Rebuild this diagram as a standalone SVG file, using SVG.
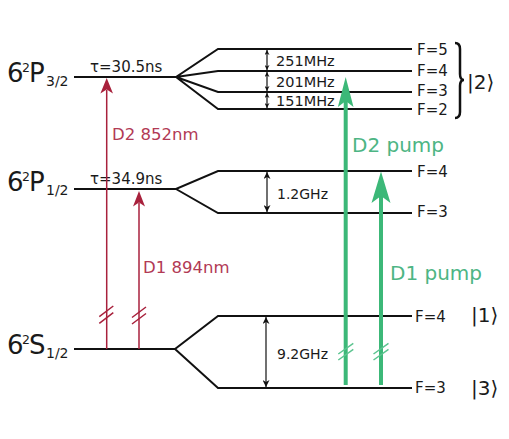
<svg xmlns="http://www.w3.org/2000/svg" width="509" height="439" viewBox="0 0 509 439">
<defs>
<style>
text{font-family:"DejaVu Sans","Liberation Sans",sans-serif;fill:#1a1a1a}
.lvl{fill:none;stroke:#111;stroke-width:2}
.st{font-size:26px}
.sup{font-size:12.5px}
.sub{font-size:14px}
.tau{font-size:15px}
.fl{font-size:15px}
.hz{font-size:14.5px}
.gz{font-size:14px}
.ket{font-size:20px}
.split{fill:none;stroke:#111;stroke-width:1.2}
.red{fill:none;stroke:#a8213c;stroke-width:1.5}
.redh{fill:#a8213c;stroke:none}
.redt{fill:#b23a55;font-size:16.5px}
.grn{fill:none;stroke:#3cb878;stroke-width:4}
.grnh{fill:#3cb878;stroke:none}
.grnm{fill:none;stroke:#5cc490;stroke-width:1.5}
.grnt{fill:#4db584;font-size:20px}
</style>
<marker id="ah" viewBox="0 0 10 10" refX="10" refY="5" markerWidth="5" markerHeight="5" orient="auto-start-reverse" markerUnits="userSpaceOnUse">
<path d="M0,0 L10,5 L0,10 L3,5 Z" fill="#111"/>
</marker>
<marker id="ahb" viewBox="0 0 10 10" refX="10" refY="5" markerWidth="7" markerHeight="7" orient="auto-start-reverse" markerUnits="userSpaceOnUse">
<path d="M0,0 L10,5 L0,10 L3,5 Z" fill="#111"/>
</marker>
</defs>
<rect width="509" height="439" fill="#fff"/>

<g id="P32">
<text x="7" y="82" class="st">6</text>
<text x="22" y="72" class="sup">2</text>
<text x="29" y="82" class="st">P</text>
<text x="46" y="85.5" class="sub">3/2</text>
<path class="lvl" d="M74,77 H176 L218,49 H412 M176,77 L218,71 H412 M176,77 L218,92 H412 M176,77 L218,109 H412"/>
<text x="90" y="71.5" class="tau">τ=30.5ns</text>
<text x="417" y="55" class="fl">F=5</text>
<text x="417" y="76" class="fl">F=4</text>
<text x="417" y="96" class="fl">F=3</text>
<text x="417" y="115" class="fl">F=2</text>
<path class="split" marker-start="url(#ah)" marker-end="url(#ah)" d="M267,50 V70"/>
<path class="split" marker-start="url(#ah)" marker-end="url(#ah)" d="M267,72 V91"/>
<path class="split" marker-start="url(#ah)" marker-end="url(#ah)" d="M267,93 V108"/>
<text x="276" y="66" class="hz">251MHz</text>
<text x="276" y="86.5" class="hz">201MHz</text>
<text x="276" y="106" class="hz">151MHz</text>
<path d="M455,43 Q460,43 460,49 L460,74 Q460,80 464,80 Q460,80 460,86 L460,112 Q460,118 455,118" fill="none" stroke="#111" stroke-width="2.5"/>
<text x="467" y="89" class="ket">|2⟩</text>
</g>

<g id="P12">
<text x="7" y="191" class="st">6</text>
<text x="22" y="181" class="sup">2</text>
<text x="29" y="191" class="st">P</text>
<text x="46" y="195" class="sub">1/2</text>
<path class="lvl" d="M74,189 H176 L218,171 H412 M176,189 L218,213 H412"/>
<text x="90" y="183.5" class="tau">τ=34.9ns</text>
<text x="417" y="176.5" class="fl">F=4</text>
<text x="417" y="217" class="fl">F=3</text>
<path class="split" marker-start="url(#ahb)" marker-end="url(#ahb)" d="M267,172 V212"/>
<text x="277" y="198.5" class="gz">1.2GHz</text>
</g>

<g id="S12">
<text x="7" y="354" class="st">6</text>
<text x="22" y="344" class="sup">2</text>
<text x="29" y="354" class="st">S</text>
<text x="46" y="358" class="sub">1/2</text>
<path class="lvl" d="M74,349 H175 L218,316 H412 M175,349 L218,388 H412"/>
<text x="415" y="322" class="fl">F=4</text>
<text x="415" y="393" class="fl">F=3</text>
<path class="split" marker-start="url(#ahb)" marker-end="url(#ahb)" d="M266,317 V387"/>
<text x="277" y="359" class="gz">9.2GHz</text>
<text x="471" y="322" class="ket">|1⟩</text>
<text x="471" y="395" class="ket">|3⟩</text>
</g>

<g id="connectors">
<path class="red" d="M106.7,349 V90"/>
<path class="redh" d="M106.7,78 L113,93.5 L106.7,89.5 L100.4,93.5 Z"/>
<path class="red" d="M99.3,316.7 L113.3,306 M99.3,323.3 L113.3,312.7"/>
<path class="red" d="M139,349 V203"/>
<path class="redh" d="M139,191 L145,206.5 L139,202.5 L133,206.5 Z"/>
<path class="red" d="M132,317.5 L146,307 M132,324 L146,313.5"/>
<text x="112" y="139.5" class="redt">D2 852nm</text>
<text x="143" y="273" class="redt">D1 894nm</text>

<path class="grn" d="M345.7,385 V100"/>
<path class="grnh" d="M345.7,77 L353.5,107 L345.7,101 L337.9,107 Z"/>
<path class="grnm" d="M338.3,354 L353.3,343.3 M338.3,360 L353.3,349.3"/>
<path class="grn" d="M381,385 V196"/>
<path class="grnh" d="M381,171.5 L390.5,203 L381,196 L371.5,203 Z"/>
<path class="grnm" d="M373.5,354 L388.5,343.3 M373.5,360 L388.5,349.3"/>
<text x="352" y="151.5" class="grnt">D2 pump</text>
<text x="390" y="280" class="grnt">D1 pump</text>
</g>
</svg>
